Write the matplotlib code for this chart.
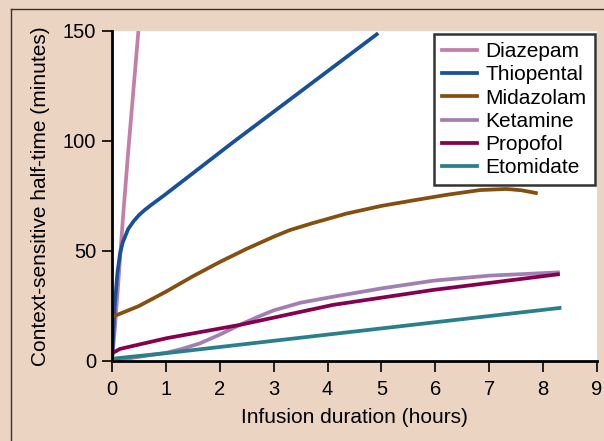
import matplotlib.pyplot as plt
from matplotlib.lines import Line2D

plt.rcParams['font.family'] = ['Liberation Sans', 'DejaVu Sans']

# values (hours, minutes)
diazepam_h = [0, 0.05, 0.1, 0.2, 0.3, 0.49]
diazepam_m = [0, 14, 30, 64, 95, 150]

thiopental_h = [0, 0.02, 0.05, 0.1, 0.15, 0.2, 0.3, 0.4, 0.5, 0.6, 0.72, 0.83, 1.0, 2.25, 4.94]
thiopental_m = [0, 10, 25, 40, 49, 54, 60, 63.5, 66.3, 68.5, 70.8, 72.8, 75.9, 99.5, 149]

midazolam_h = [0, 0.5, 1.0, 1.5, 2.0, 2.5, 3.0, 3.3, 3.7, 4.35, 5.0, 5.59, 6.2, 6.83, 7.32, 7.6, 7.9]
midazolam_m = [20, 25, 31.5, 38.5, 45, 51, 56.5, 59.5, 62.5, 67, 70.5, 73, 75.5, 77.7, 78.2, 77.6, 76.2]

ketamine_h = [0, 0.39, 1.02, 1.3, 1.63, 2.0, 2.37, 2.7, 3.0, 3.5, 4.1, 5.0, 5.96, 7.0, 8.31]
ketamine_m = [0, 1.5, 3.8, 5.5, 8, 12, 16.4, 20, 23, 26.5, 29.2, 33, 36.5, 38.8, 40.3]

propofol_h = [0, 0.15, 1.02, 2.37, 4.1, 5.96, 8.31]
propofol_m = [3.5, 5.5, 10.4, 16.4, 25.5, 32.3, 39.5]

etomidate_h = [0, 0.3, 1.02, 4.0, 8.34]
etomidate_m = [1, 1.8, 3.6, 12, 24.2]

names = ['Diazepam', 'Thiopental', 'Midazolam', 'Ketamine', 'Propofol', 'Etomidate']
colors = ['#c47fa9', '#17519a', '#85500f', '#a17fb2', '#86004f', '#2a7f8c']
series = [(diazepam_h, diazepam_m), (thiopental_h, thiopental_m),
          (midazolam_h, midazolam_m), (ketamine_h, ketamine_m),
          (propofol_h, propofol_m), (etomidate_h, etomidate_m)]

bg = '#ecd4c2'
fig = plt.figure(figsize=(6.04, 4.41), dpi=100, facecolor=bg)
ax = fig.add_axes([112 / 604, 1 - 361 / 441, 485 / 604, 330 / 441])

for (h, m), c in zip(series, colors):
    ax.plot(h, m, color=c, lw=2.7, solid_capstyle='butt', solid_joinstyle='round')

ax.set_xlim(0, 9)
ax.set_ylim(0, 150)
ax.set_xticks(range(0, 10))
ax.set_yticks([0, 50, 100, 150])
for s in ['top', 'right']:
    ax.spines[s].set_visible(False)
for s in ['left', 'bottom']:
    ax.spines[s].set_linewidth(2)
ax.tick_params(axis='x', length=8, width=1.2, labelsize=14.5, pad=6)
ax.tick_params(axis='y', length=7.5, width=1.2, labelsize=14.5, pad=4)
ax.set_xlabel('Infusion duration (hours)', fontsize=15, labelpad=6)
ax.set_ylabel('Context-sensitive half-time (minutes)', fontsize=15, labelpad=9)

handles = [Line2D([], [], color=c, lw=2.7) for c in colors]
leg = ax.legend(handles, names, loc='upper right', bbox_to_anchor=(0.996, 0.991),
                fontsize=15, frameon=True, fancybox=False, handlelength=1.7,
                handletextpad=0.4, labelspacing=0.2, borderpad=0.4, borderaxespad=0)
leg.get_frame().set_edgecolor('black')
leg.get_frame().set_linewidth(1.8)

# frame of the original figure (cropped)
fig.add_artist(Line2D([10.5 / 604, 10.5 / 604], [0, 1 - 9 / 441], color='#333333', lw=1))
fig.add_artist(Line2D([10.5 / 604, 1], [1 - 9 / 441, 1 - 9 / 441], color='#333333', lw=1))

fig.savefig('out.png', dpi=100, facecolor=bg)
